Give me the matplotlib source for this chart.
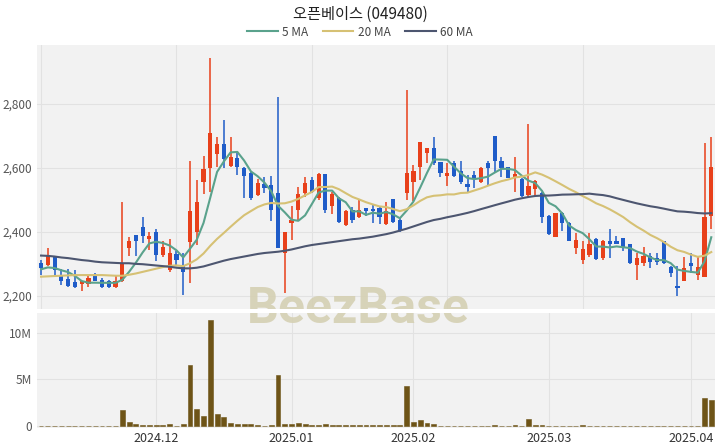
import matplotlib
matplotlib.use('Agg')
import matplotlib.pyplot as plt
import numpy as np
import pandas as pd

plt.rcParams['font.family'] = ['Noto Sans CJK KR', 'DejaVu Sans']

title = '오픈베이스 (049480)'

opens = [2304, 2297, 2323, 2262, 2252, 2242, 2237, 2236, 2266, 2250,
         2248, 2227, 2245, 2349, 2391, 2415, 2377, 2401, 2328, 2281,
         2331, 2292, 2367, 2401, 2557, 2599, 2644, 2675, 2606, 2630,
         2599, 2583, 2516, 2550, 2545, 2521, 2333, 2427, 2467, 2523,
         2562, 2505, 2581, 2482, 2505, 2422, 2467, 2448, 2474, 2471,
         2474, 2424, 2502, 2437, 2523, 2557, 2602, 2646, 2661, 2618,
         2575, 2615, 2589, 2550, 2578, 2557, 2615, 2700, 2620, 2602,
         2571, 2565, 2516, 2533, 2523, 2450, 2383, 2460, 2429, 2349,
         2312, 2328, 2377, 2318, 2372, 2372, 2380, 2362, 2297, 2302,
         2325, 2318, 2370, 2289, 2231, 2248, 2304, 2266, 2260, 2450]
highs = [2312, 2349, 2325, 2283, 2283, 2281, 2248, 2266, 2271, 2255,
         2250, 2266, 2493, 2385, 2391, 2448, 2401, 2408, 2370, 2377,
         2339, 2333, 2623, 2563, 2637, 2943, 2698, 2750, 2698, 2646,
         2604, 2589, 2565, 2573, 2575, 2823, 2401, 2481, 2540, 2573,
         2571, 2583, 2581, 2526, 2510, 2469, 2479, 2500, 2474, 2484,
         2479, 2492, 2502, 2448, 2844, 2609, 2682, 2661, 2698, 2618,
         2615, 2623, 2623, 2578, 2589, 2604, 2620, 2700, 2635, 2602,
         2633, 2568, 2737, 2562, 2526, 2453, 2458, 2463, 2432, 2396,
         2370, 2398, 2380, 2375, 2408, 2387, 2380, 2362, 2333, 2352,
         2333, 2333, 2372, 2294, 2292, 2323, 2333, 2323, 2677, 2698]
lows = [2266, 2294, 2266, 2234, 2229, 2224, 2214, 2229, 2245, 2224,
        2224, 2224, 2242, 2325, 2325, 2365, 2342, 2310, 2323, 2276,
        2297, 2203, 2240, 2359, 2519, 2526, 2604, 2599, 2604, 2578,
        2505, 2500, 2512, 2521, 2435, 2349, 2208, 2375, 2437, 2510,
        2521, 2500, 2458, 2456, 2429, 2419, 2429, 2443, 2450, 2427,
        2424, 2421, 2429, 2401, 2500, 2495, 2562, 2615, 2609, 2571,
        2542, 2573, 2550, 2521, 2536, 2552, 2542, 2583, 2573, 2568,
        2526, 2510, 2510, 2510, 2429, 2391, 2383, 2404, 2370, 2331,
        2300, 2323, 2312, 2312, 2318, 2362, 2339, 2300, 2250, 2292,
        2286, 2297, 2300, 2260, 2200, 2245, 2271, 2250, 2260, 2408]
closes = [2287, 2325, 2281, 2248, 2231, 2227, 2245, 2255, 2248, 2229,
          2227, 2245, 2302, 2372, 2372, 2387, 2387, 2328, 2352, 2333,
          2312, 2276, 2464, 2492, 2596, 2710, 2675, 2627, 2635, 2602,
          2575, 2505, 2552, 2536, 2467, 2349, 2401, 2437, 2519, 2552,
          2526, 2581, 2467, 2519, 2432, 2464, 2437, 2469, 2464, 2466,
          2448, 2464, 2432, 2403, 2585, 2589, 2682, 2661, 2615, 2583,
          2585, 2575, 2557, 2540, 2568, 2599, 2599, 2620, 2599, 2568,
          2580, 2512, 2542, 2560, 2446, 2394, 2458, 2429, 2373, 2375,
          2346, 2362, 2315, 2372, 2362, 2362, 2349, 2302, 2318, 2325,
          2307, 2307, 2302, 2271, 2224, 2286, 2292, 2290, 2446, 2602]
volumes_m = [0.05, 0.05, 0.05, 0.05, 0.05, 0.05, 0.05, 0.02, 0.02, 0.02,
             0.02, 0.02, 1.7, 0.4, 0.2, 0.15, 0.1, 0.1, 0.1, 0.25,
             0.05, 0.25, 6.5, 1.8, 1.1, 11.4, 1.25, 0.93, 0.36, 0.22,
             0.2, 0.2, 0.07, 0.05, 0.07, 5.46, 0.22, 0.2, 0.3, 0.2,
             0.15, 0.15, 0.2, 0.07, 0.06, 0.06, 0.06, 0.06, 0.06, 0.06,
             0.06, 0.06, 0.06, 0.06, 4.3, 0.4, 0.7, 0.3, 0.25, 0.05,
             0.05, 0.05, 0.05, 0.05, 0.05, 0.05, 0.05, 0.15, 0.05, 0.05,
             0.1, 0.05, 0.8, 0.15, 0.15, 0.05, 0.05, 0.05, 0.05, 0.05,
             0.1, 0.05, 0.05, 0.05, 0.05, 0.05, 0.05, 0.05, 0.05, 0.05,
             0.05, 0.05, 0.05, 0.05, 0.05, 0.05, 0.05, 0.05, 2.97, 2.8]

# moving-average values visible before enough in-window closes exist
ma5_head = [2283, 2289, 2287, 2280]
ma20_head = [2260, 2261, 2262, 2263, 2264, 2265, 2265, 2265, 2265, 2265,
             2264, 2263, 2263, 2266, 2270, 2275, 2280, 2285, 2290]
ma60_head = [2326, 2325, 2323, 2320, 2318, 2315, 2312, 2310, 2307, 2305,
             2304, 2303, 2302, 2302, 2300, 2299, 2297, 2295, 2293, 2291,
             2288, 2286, 2286, 2288, 2292, 2298, 2304, 2310, 2315, 2319,
             2323, 2327, 2331, 2334, 2336, 2338, 2341, 2345, 2350, 2355,
             2359, 2362, 2365, 2368, 2371, 2374, 2377, 2379, 2382, 2385,
             2389, 2393, 2398, 2404, 2410, 2417, 2424, 2431, 2437]

month_tick_idx = [17, 37, 55, 75, 96]
month_tick_labels = ['2024.12', '2025.01', '2025.02', '2025.03', '2025.04']
price_ticks = [2200, 2400, 2600, 2800]
vol_ticks = [0, 5e6, 10e6]
vol_tick_labels = ['0', '5M', '10M']
ma_labels = ['5 MA', '20 MA', '60 MA']

UP = '#e8401a'
DOWN = '#1f5cc8'
VOLC = '#6e5417'
MA_COLORS = ['#5aa28c', '#d6c174', '#4d5670']
BG = '#f2f2f2'
GRID = '#e2e2e2'

o = np.array(opens, float); h = np.array(highs, float)
l = np.array(lows, float); c = np.array(closes, float)
v = np.array(volumes_m) * 1e6
x = np.arange(len(c))

s = pd.Series(c)
ma5 = s.rolling(5).mean().to_numpy(); ma5[:len(ma5_head)] = ma5_head
ma20 = s.rolling(20).mean().to_numpy(); ma20[:len(ma20_head)] = ma20_head
ma60 = s.rolling(60).mean().to_numpy(); ma60[:len(ma60_head)] = ma60_head

fig = plt.figure(figsize=(7.2, 4.48), dpi=100)
W, H = 720, 448
def rect(l_, t_, r_, b_):
    return [l_ / W, 1 - b_ / H, (r_ - l_) / W, (b_ - t_) / H]

axp = fig.add_axes(rect(37, 45, 715, 309))
axv = fig.add_axes(rect(37, 313, 715, 428))

for ax in (axp, axv):
    ax.set_facecolor(BG)
    for sp in ax.spines.values():
        sp.set_visible(False)
    ax.set_axisbelow(True)
    ax.tick_params(length=0, labelsize=8.5, colors='#555555')
    ax.set_xlim(-0.6, 99.55)

# price panel
axp.set_ylim(2159, 2984)
axp.set_yticks(price_ticks)
axp.set_yticklabels([f'{t:,}' for t in price_ticks])
axp.set_xticks([0, 20, 40, 60, 80])
axp.set_xticklabels([])
axp.grid(True, color=GRID, lw=0.8)

up = c >= o
colors = np.where(up, UP, DOWN)
axp.vlines(x, l, h, colors=colors, lw=1.1, zorder=2)
body_h = np.maximum(np.abs(c - o), 2.5)
axp.bar(x, body_h, bottom=np.minimum(o, c), width=0.62, color=colors, zorder=3)

for ma, col, lab in zip([ma5, ma20, ma60], MA_COLORS, ma_labels):
    axp.plot(x, ma, color=col, lw=1.5, label=lab, zorder=4)

# volume panel
axv.set_ylim(-0.21e6, 12.11e6)
axv.set_yticks(vol_ticks)
axv.set_yticklabels(vol_tick_labels)
axv.set_xticks(month_tick_idx)
axv.set_xticklabels(month_tick_labels, color='#333333', fontsize=9)
axv.tick_params(axis='x', pad=3)
axv.grid(True, color=GRID, lw=0.8)
axv.bar(x, v, width=0.72, color=VOLC, edgecolor=VOLC, lw=0.4, zorder=3)

# watermark
for ax in (axp, axv):
    ax.text(0.497, 1 - 309 / H, 'BeezBase', transform=fig.transFigure,
            ha='center', va='center', fontsize=36, fontweight='bold',
            family=['Roboto', 'DejaVu Sans'], color='#d5d0b3', alpha=0.9,
            clip_on=True, zorder=1)

fig.text(0.5, 1 - 14 / H, title, ha='center', va='center', fontsize=11, color='#222222')
handles, labels = axp.get_legend_handles_labels()
fig.legend(handles, labels, loc='center', bbox_to_anchor=(0.5, 1 - 32 / H), ncol=3,
           frameon=False, fontsize=8.5, handlelength=2.6, handletextpad=0.4,
           columnspacing=1.2, labelcolor='#444444')

fig.savefig('out.png', dpi=100, facecolor='white')
